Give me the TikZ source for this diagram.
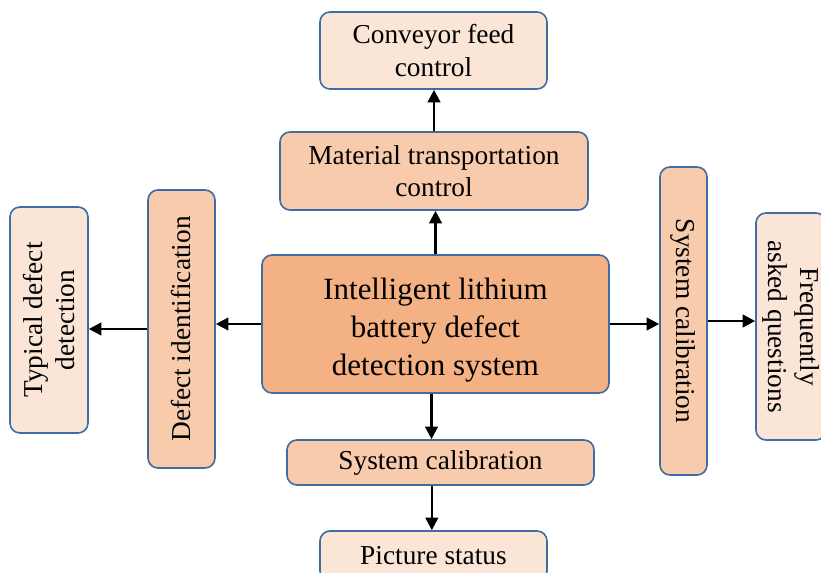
\documentclass[tikz,border=0pt]{standalone}
\usepackage{fontspec}
\setmainfont{Liberation Serif}
\usetikzlibrary{arrows.meta}

\definecolor{boxline}{HTML}{3E6CA3}
\definecolor{fillA}{HTML}{F4B183}
\definecolor{fillB}{HTML}{F8CBAD}
\definecolor{fillC}{HTML}{FBE5D6}

\begin{document}
\begin{tikzpicture}[
    x=0.75pt, y=-0.75pt,
    every node/.style={draw=boxline, line width=1.2pt, rounded corners=7.5pt,
                       align=center, inner sep=2pt,
                       font=\fontsize{20.5}{24.5}\selectfont},
    mid/.style={fill=fillB},
    outer/.style={fill=fillC},
    arr/.style={-{Triangle[length=9.5pt,width=9.5pt]}, line width=1.8pt}]

\clip (0,0) rectangle (821,573);

\node[fill=fillA, minimum width=260.25pt, minimum height=103.5pt,
      font=\fontsize{23.2}{28.5}\selectfont] (core) at (435.5,324)
    {\raisebox{-4.5pt}[\height][\depth]{\parbox{250pt}{\centering
     Intelligent lithium\\battery defect\\detection system}}};

\node[mid, minimum width=231pt, minimum height=58.5pt] (transport) at (434,171)
    {Material transportation\\control};
\node[outer, minimum width=170.25pt, minimum height=57.75pt] (conveyor) at (433.5,50.5)
    {Conveyor feed\\control};

\node[mid, minimum width=230.25pt, minimum height=33.75pt] (calib) at (440.5,462.5)
    {System calibration};
\node[outer, minimum width=170.25pt, minimum height=37.5pt] (status) at (433.5,556)
    {Picture status};

\node[mid, rotate=90, minimum width=208.5pt, minimum height=50.25pt] (defid) at (181.5,329)
    {Defect identification};
\node[outer, rotate=90, minimum width=169.5pt, minimum height=58.5pt] (typical) at (49,320)
    {Typical defect\\detection};

\node[mid, rotate=-90, minimum width=231pt, minimum height=35.25pt] (calibR) at (683.5,321)
    {System calibration};
\node[outer, rotate=-90, minimum width=170.25pt, minimum height=52.5pt] (faq) at (791,326.5)
    {Frequently\\asked questions};

\draw[arr] (core.north) -- (core.north |- transport.south);
\draw[arr] (transport.north) -- (transport.north |- conveyor.south);
\draw[arr] ([xshift=-3pt]core.south) -- ([xshift=-3pt]core.south |- calib.north);
\draw[arr] ([xshift=-6.5pt]calib.south) -- ([xshift=-6.5pt]calib.south |- status.north);
\draw[arr] (core.west) -- (core.west -| defid.south);
\draw[arr] (defid.north) -- (defid.north -| typical.south);
\draw[arr] (core.east) -- (core.east -| calibR.south);
\draw[arr] (calibR.north) -- (calibR.north -| faq.south);

\end{tikzpicture}
\end{document}
